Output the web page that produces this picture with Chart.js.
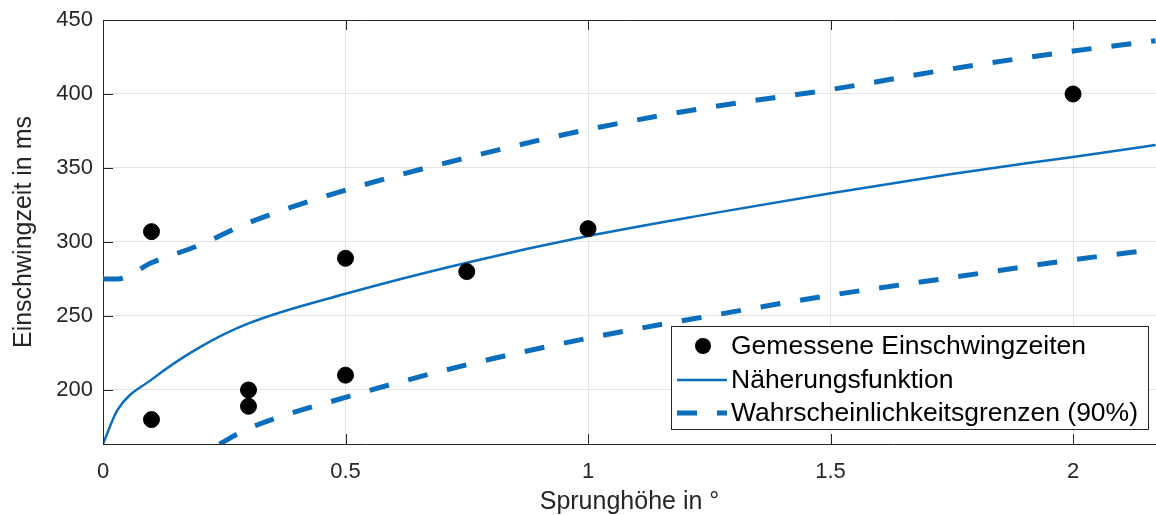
<!DOCTYPE html>
<html lang="de">
<head>
  <meta charset="UTF-8">
  <title>Einschwingzeit vs. Sprunghöhe</title>
  <script src="https://cdn.jsdelivr.net/npm/chart.js"></script>
  <style>
    * { margin: 0; padding: 0; box-sizing: border-box; }
    body { background: #fff; width: 1156px; height: 515px; overflow: hidden; }
    canvas { display: block; }
  </style>
</head>
<body>
  <canvas id="chart" width="1156" height="515"></canvas>

  <script>
    // measured points
    const measX = [0.1, 0.1, 0.3, 0.3, 0.5, 0.5, 0.75, 1, 2];
    const measY = [180, 307, 200, 189, 289, 210, 280, 309, 400];

    // fit curve
    const fitX = [0, 0.03, 0.1, 0.2, 0.3, 0.5, 0.75, 1, 1.25, 1.5, 1.75, 2, 2.17];
    const fitY = [163.5, 186.5, 207, 229, 245, 265, 286, 304, 319, 333, 346, 357.5, 365.5];

    // 90% bounds
    const upperX = [0, 0.03, 0.1, 0.2, 0.3, 0.5, 0.75, 1, 1.25, 1.5, 1.75, 2, 2.17];
    const upperY = [275, 275, 286, 298, 313, 335, 357, 376, 391, 403, 417, 429, 436];
    const lowerX = [0.24, 0.3, 0.5, 0.75, 1, 1.25, 1.5, 1.75, 2, 2.17];
    const lowerY = [163.5, 174, 195, 217, 235, 250, 264, 276, 288, 295];

    const xTicks = [0, 0.5, 1, 1.5, 2];
    const yTicks = [200, 250, 300, 350, 400, 450];

    const blue = '#0a6ebd';
    const axisColor = '#262626';
    const font = '"Liberation Sans", Arial, sans-serif';

    const toXY = (xs, ys) => xs.map((x, i) => ({ x: x, y: ys[i] }));

    // box, inward ticks and the legend in the lower right corner
    const matlabBox = {
      id: 'matlabBox',
      afterDatasetsDraw(chart) {
        const { ctx, chartArea: a, scales } = chart;
        ctx.save();
        ctx.strokeStyle = axisColor;
        ctx.lineWidth = 1;
        ctx.beginPath();
        ctx.moveTo(a.left, a.top + 0.5);
        ctx.lineTo(a.right, a.top + 0.5);
        xTicks.forEach(v => {
          const px = Math.round(scales.x.getPixelForValue(v)) + 0.5;
          ctx.moveTo(px, a.bottom); ctx.lineTo(px, a.bottom - 10);
          ctx.moveTo(px, a.top); ctx.lineTo(px, a.top + 10);
        });
        yTicks.forEach(v => {
          const py = Math.round(scales.y.getPixelForValue(v)) + 0.5;
          ctx.moveTo(a.left, py); ctx.lineTo(a.left + 10, py);
        });
        ctx.stroke();

        // legend
        const bx = 671, by = 326, bw = 477, bh = 103;
        ctx.fillStyle = '#fff';
        ctx.fillRect(bx, by, bw, bh);
        ctx.strokeRect(bx + 0.5, by + 0.5, bw, bh);
        const rows = [by + 20, by + 54, by + 87];
        ctx.font = '26.5px ' + font;
        ctx.fillStyle = '#000';
        ctx.textBaseline = 'middle';
        chart.data.datasets.slice(0, 3).forEach((ds, i) => {
          const y = rows[i];
          if (i === 0) {
            ctx.beginPath();
            ctx.arc(703, y, 8, 0, Math.PI * 2);
            ctx.fill();
          } else {
            ctx.save();
            ctx.strokeStyle = blue;
            ctx.lineWidth = ds.borderWidth;
            ctx.setLineDash(ds.borderDash || []);
            ctx.beginPath();
            ctx.moveTo(677, y); ctx.lineTo(727, y);
            ctx.stroke();
            ctx.restore();
          }
          ctx.fillStyle = '#000';
          ctx.fillText(ds.label, 731, y + 1);
        });
        ctx.restore();
      }
    };

    new Chart(document.getElementById('chart'), {
      type: 'scatter',
      data: {
        datasets: [
          {
            label: 'Gemessene Einschwingzeiten',
            data: toXY(measX, measY),
            backgroundColor: '#000',
            borderColor: '#000',
            pointRadius: 8,
            order: 0
          },
          {
            label: 'Näherungsfunktion',
            data: toXY(fitX, fitY),
            showLine: true,
            borderColor: blue,
            borderWidth: 2.5,
            pointRadius: 0,
            cubicInterpolationMode: 'monotone',
            order: 1
          },
          {
            label: 'Wahrscheinlichkeitsgrenzen (90%)',
            data: toXY(upperX, upperY),
            showLine: true,
            borderColor: blue,
            borderWidth: 5,
            borderDash: [20, 20],
            borderCapStyle: 'butt',
            pointRadius: 0,
            cubicInterpolationMode: 'monotone',
            order: 2
          },
          {
            label: 'untere Grenze',
            data: toXY(lowerX, lowerY),
            showLine: true,
            borderColor: blue,
            borderWidth: 5,
            borderDash: [20, 20],
            borderCapStyle: 'butt',
            pointRadius: 0,
            cubicInterpolationMode: 'monotone',
            order: 2
          }
        ]
      },
      options: {
        responsive: false,
        animation: false,
        layout: { autoPadding: false, padding: { top: 20, right: 0, bottom: 0, left: 0 } },
        plugins: {
          legend: { display: false },
          tooltip: { enabled: false }
        },
        scales: {
          x: {
            type: 'linear',
            min: 0,
            max: 2.171,
            afterBuildTicks: s => { s.ticks = xTicks.map(v => ({ value: v })); },
            afterFit: s => { s.height = 71; s.paddingLeft = 0; s.paddingRight = 0; },
            grid: { color: '#e3e3e3', drawTicks: false, tickLength: 0 },
            border: { color: axisColor, width: 1 },
            ticks: {
              color: axisColor,
              font: { family: font, size: 22 },
              padding: 15,
              maxRotation: 0,
              callback: v => String(v)
            },
            title: {
              display: true,
              text: 'Sprunghöhe in °',
              color: axisColor,
              font: { family: font, size: 25, lineHeight: 1 },
              padding: { top: 0, bottom: 0 }
            }
          },
          y: {
            min: 163.5,
            max: 450,
            afterBuildTicks: s => { s.ticks = yTicks.map(v => ({ value: v })); },
            afterFit: s => { s.width = 103; s.paddingTop = 0; s.paddingBottom = 0; },
            grid: { color: '#e3e3e3', drawTicks: false, tickLength: 0 },
            border: { color: axisColor, width: 1 },
            ticks: {
              color: axisColor,
              font: { family: font, size: 22 },
              padding: 10
            },
            title: {
              display: true,
              text: 'Einschwingzeit in ms',
              color: axisColor,
              font: { family: font, size: 25, lineHeight: 1.2 },
              padding: { top: 9, bottom: 0 }
            }
          }
        }
      },
      plugins: [matlabBox]
    });
  </script>
</body>
</html>
